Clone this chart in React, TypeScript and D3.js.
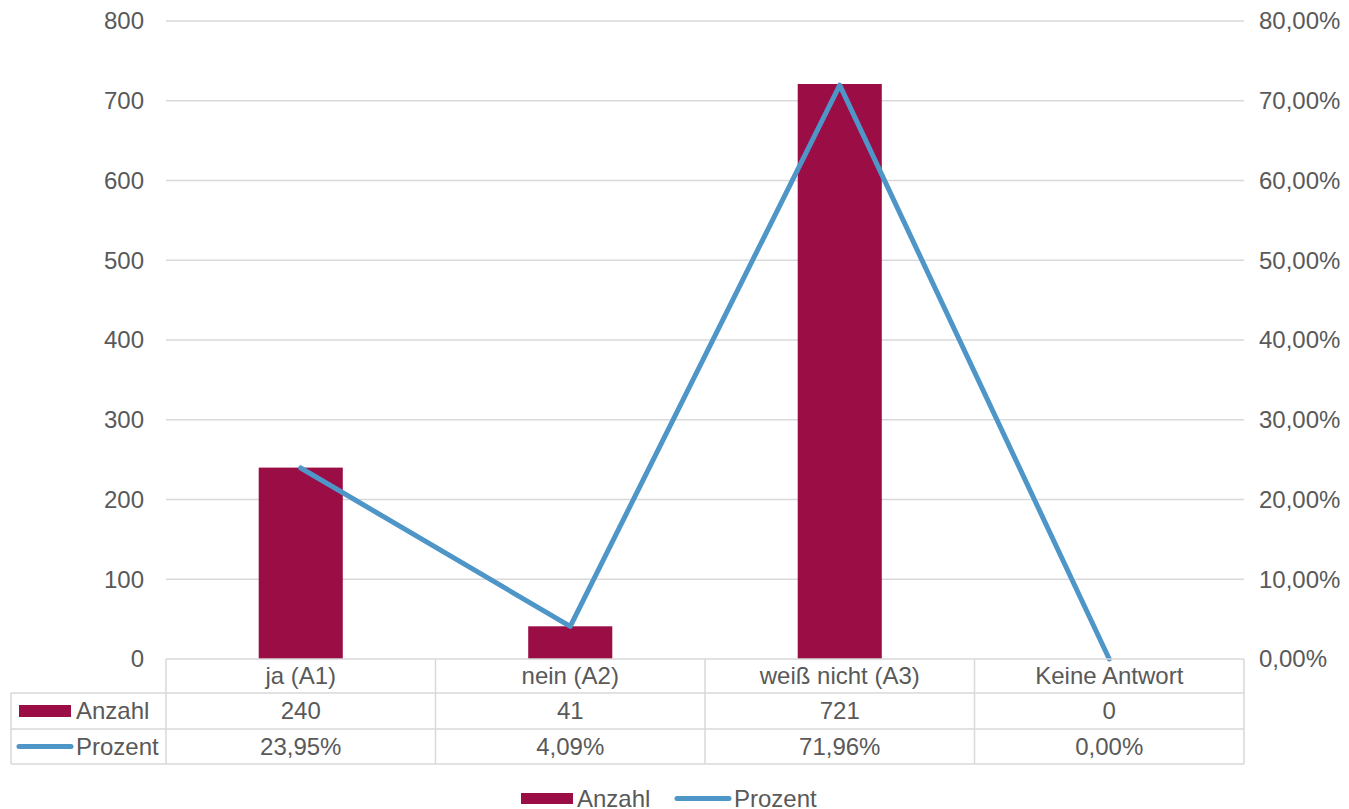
import React from "react";
import * as d3 from "d3";

const categories = ["ja (A1)", "nein (A2)", "weiß nicht (A3)", "Keine Antwort"];
const anzahl = [240, 41, 721, 0];
const prozent = [23.95, 4.09, 71.96, 0.0];
const leftTicks = [0, 100, 200, 300, 400, 500, 600, 700, 800];
const rightTicks = [0, 10, 20, 30, 40, 50, 60, 70, 80];

const W = 1349;
const H = 809;
const plotLeft = 166;
const plotRight = 1244;
const plotTop = 21;
const plotBottom = 659;
const rowBounds = [659, 693, 729, 764];
const tableLeft = 11;

const barColor = "#9b0d45";
const lineColor = "#4e95c8";
const textColor = "#595959";
const gridColor = "#d9d9d9";
const font = "'Liberation Sans', Arial, sans-serif";
const fs = 24;

const fmtPct = (v: number) => v.toFixed(2).replace(".", ",") + "%";

export default function App() {
  const x = d3.scaleBand<string>().domain(categories).range([plotLeft, plotRight]).paddingInner(0).paddingOuter(0);
  const yL = d3.scaleLinear().domain([0, 800]).range([plotBottom, plotTop]);
  const yR = d3.scaleLinear().domain([0, 80]).range([plotBottom, plotTop]);
  const bw = x.bandwidth();
  const barW = bw * 0.312;
  const cx = (c: string) => (x(c) as number) + bw / 2;

  const line = d3
    .line<number>()
    .x((_, i) => cx(categories[i]))
    .y((d) => yR(d));

  const rowMid = (r: number) => (rowBounds[r] + rowBounds[r + 1]) / 2;

  return (
    <svg width={W} height={H} style={{ position: "absolute", left: 0, top: 0 }} fontFamily={font}>
      <rect width={W} height={H} fill="#fff" />
      {/* gridlines */}
      {leftTicks.slice(1).map((t) => (
        <line key={t} x1={plotLeft} x2={plotRight} y1={yL(t)} y2={yL(t)} stroke={gridColor} strokeWidth={1.5} />
      ))}
      {/* left axis labels */}
      {leftTicks.map((t) => (
        <text key={t} x={144} y={yL(t)} dy="0.35em" textAnchor="end" fontSize={fs} fill={textColor}>
          {t}
        </text>
      ))}
      {/* right axis labels */}
      {rightTicks.map((t) => (
        <text key={t} x={1259} y={yR(t)} dy="0.35em" textAnchor="start" fontSize={fs} fill={textColor}>
          {fmtPct(t)}
        </text>
      ))}
      {/* bars */}
      {categories.map((c, i) => (
        <rect key={c} x={cx(c) - barW / 2} y={yL(anzahl[i])} width={barW} height={plotBottom - yL(anzahl[i])} fill={barColor} />
      ))}
      {/* percentage line */}
      <path d={line(prozent) || ""} fill="none" stroke={lineColor} strokeWidth={5} strokeLinejoin="round" strokeLinecap="round" />

      {/* data table */}
      <g stroke={gridColor} strokeWidth={1.5} fill="none">
        <line x1={plotLeft} x2={plotRight} y1={rowBounds[0]} y2={rowBounds[0]} />
        {rowBounds.slice(1).map((yv) => (
          <line key={yv} x1={tableLeft} x2={plotRight} y1={yv} y2={yv} />
        ))}
        <line x1={tableLeft} x2={tableLeft} y1={rowBounds[1]} y2={rowBounds[3]} />
        {categories.map((c) => (
          <line key={c} x1={x(c)} x2={x(c)} y1={rowBounds[0]} y2={rowBounds[3]} />
        ))}
        <line x1={plotRight} x2={plotRight} y1={rowBounds[0]} y2={rowBounds[3]} />
      </g>
      {categories.map((c, i) => (
        <g key={c} fontSize={fs} fill={textColor} textAnchor="middle">
          <text x={cx(c)} y={rowMid(0)} dy="0.35em">{c}</text>
          <text x={cx(c)} y={rowMid(1)} dy="0.35em">{anzahl[i]}</text>
          <text x={cx(c)} y={rowMid(2)} dy="0.35em">{fmtPct(prozent[i])}</text>
        </g>
      ))}
      {/* table row keys */}
      <rect x={19} y={rowMid(1) - 6} width={52} height={12} fill={barColor} />
      <text x={76} y={rowMid(1)} dy="0.35em" fontSize={fs} fill={textColor}>Anzahl</text>
      <line x1={19} x2={71} y1={rowMid(2)} y2={rowMid(2)} stroke={lineColor} strokeWidth={5} strokeLinecap="round" />
      <text x={76} y={rowMid(2)} dy="0.35em" fontSize={fs} fill={textColor}>Prozent</text>

      {/* legend */}
      <rect x={521} y={793} width={52} height={11} fill={barColor} />
      <text x={577} y={798.5} dy="0.35em" fontSize={fs} fill={textColor}>Anzahl</text>
      <line x1={677} x2={729} y1={798.5} y2={798.5} stroke={lineColor} strokeWidth={5} strokeLinecap="round" />
      <text x={734} y={798.5} dy="0.35em" fontSize={fs} fill={textColor}>Prozent</text>
    </svg>
  );
}
